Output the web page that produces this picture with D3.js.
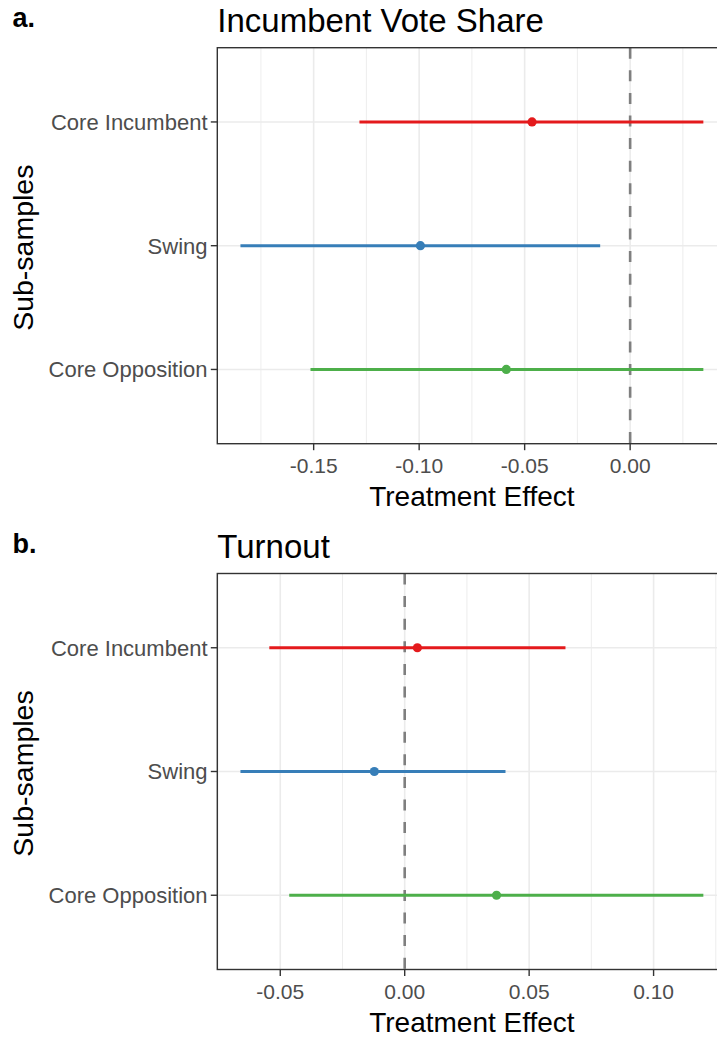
<!DOCTYPE html>
<html>
<head>
<meta charset="utf-8">
<script src="https://cdn.jsdelivr.net/npm/d3@7"></script>
<style>
  body { margin: 0; background: #fff; }
  svg { display: block; font-family: "Liberation Sans", Arial, sans-serif; }
</style>
</head>
<body>
<svg id="chart" width="717" height="1039"></svg>
<script>
// sub-samples, top to bottom
const groups = ["Core Incumbent", "Swing", "Core Opposition"];
const colors = ["#E41A1C", "#377EB8", "#4DAF4A"];

// a. incumbent vote share
const voteEst = [-0.0465, -0.0994, -0.0587];
const voteLo  = [-0.1283, -0.1847, -0.1515];
const voteHi  = [ 0.0347, -0.0142,  0.0347];

// b. turnout
const turnEst = [ 0.0051, -0.0122, 0.0369];
const turnLo  = [-0.0544, -0.0660, -0.0464];
const turnHi  = [ 0.0646,  0.0405,  0.1200];

const svg = d3.select("svg#chart");
const fmt = v => d3.format(".2f")(v).replace("\u2212", "-");

function draw_panel(tag, title, est, lo, hi, top){
  const left = 217.3, plotW = 509.2, plotH = 396;
  const bottom = top + plotH;

  // ggplot-ish 5% expansion
  let mn = d3.min(lo), mx = d3.max(hi);
  let pad = (mx - mn) * 0.05;
  const x = d3.scaleLinear().domain([mn - pad, mx + pad]).range([left, left + plotW]);
  // discrete axis with 0.6 unit expansion
  const y = d3.scalePoint().domain(groups).range([top, bottom]).padding(0.6);

  const g = svg.append("g");

  // grid
  const major = x.ticks(5).filter(t => t >= x.domain()[0] && t <= x.domain()[1]);
  const step = major[1] - major[0];
  let minor = [];
  for (let t = major[0] - step / 2; t <= x.domain()[1]; t += step) {
    if (t >= x.domain()[0]) minor.push(t);
  }
  g.selectAll(".minor").data(minor).enter().append("line")
    .attr("x1", d => x(d)).attr("x2", d => x(d))
    .attr("y1", top).attr("y2", bottom)
    .attr("stroke", "#EBEBEB").attr("stroke-width", 0.9);
  g.selectAll(".major").data(major).enter().append("line")
    .attr("x1", d => x(d)).attr("x2", d => x(d))
    .attr("y1", top).attr("y2", bottom)
    .attr("stroke", "#EBEBEB").attr("stroke-width", 1.6);
  g.selectAll(".hgrid").data(groups).enter().append("line")
    .attr("x1", left).attr("x2", left + plotW)
    .attr("y1", d => y(d)).attr("y2", d => y(d))
    .attr("stroke", "#EBEBEB").attr("stroke-width", 1.6);

  // zero line
  g.append("line")
    .attr("x1", x(0)).attr("x2", x(0))
    .attr("y1", top).attr("y2", bottom)
    .attr("stroke", "#7F7F7F").attr("stroke-width", 2.6)
    .attr("stroke-dasharray", "11,11.6");

  // intervals + points
  const rows = groups.map((k, i) => ({k: k, est: est[i], lo: lo[i], hi: hi[i], col: colors[i]}));
  g.selectAll(".ci").data(rows).enter().append("line")
    .attr("x1", d => x(d.lo)).attr("x2", d => x(d.hi))
    .attr("y1", d => y(d.k)).attr("y2", d => y(d.k))
    .attr("stroke", d => d.col).attr("stroke-width", 3);
  g.selectAll(".pt").data(rows).enter().append("circle")
    .attr("cx", d => x(d.est)).attr("cy", d => y(d.k))
    .attr("r", 4.6).attr("fill", d => d.col);

  // border
  g.append("rect")
    .attr("x", left).attr("y", top).attr("width", plotW).attr("height", plotH)
    .attr("fill", "none").attr("stroke", "#333").attr("stroke-width", 1.4);

  // x axis ticks + labels
  g.selectAll(".xt").data(major).enter().append("line")
    .attr("x1", d => x(d)).attr("x2", d => x(d))
    .attr("y1", bottom).attr("y2", bottom + 6.5)
    .attr("stroke", "#333").attr("stroke-width", 1.4);
  g.selectAll(".xl").data(major).enter().append("text")
    .attr("x", d => x(d)).attr("y", bottom + 29.4)
    .attr("text-anchor", "middle")
    .attr("font-size", 21).attr("fill", "#4D4D4D")
    .text(d => fmt(d));

  // y axis ticks + labels
  g.selectAll(".yt").data(groups).enter().append("line")
    .attr("x1", left - 6.5).attr("x2", left)
    .attr("y1", d => y(d)).attr("y2", d => y(d))
    .attr("stroke", "#333").attr("stroke-width", 1.4);
  g.selectAll(".yl").data(groups).enter().append("text")
    .attr("x", 207.5).attr("y", d => y(d) + 7.8)
    .attr("text-anchor", "end")
    .attr("font-size", 22).attr("fill", "#4D4D4D")
    .text(d => d);

  // axis titles
  g.append("text")
    .attr("x", left + plotW / 2).attr("y", bottom + 62)
    .attr("text-anchor", "middle").attr("font-size", 28).attr("fill", "#000")
    .text("Treatment Effect");
  g.append("text")
    .attr("transform", `translate(33,${(top + bottom) / 2 + 2}) rotate(-90)`)
    .attr("text-anchor", "middle").attr("font-size", 28.5).attr("fill", "#000")
    .text("Sub-samples");

  // panel title + tag
  g.append("text")
    .attr("x", left).attr("y", top - 16)
    .attr("font-size", 33).attr("fill", "#000")
    .text(title);
  g.append("text")
    .attr("x", 12.5).attr("y", top - 20.5)
    .attr("font-size", 27).attr("font-weight", "bold").attr("fill", "#000")
    .text(tag);
}

draw_panel("a.", "Incumbent Vote Share", voteEst, voteLo, voteHi, 47.7);
draw_panel("b.", "Turnout", turnEst, turnLo, turnHi, 573.5);
</script>
</body>
</html>
